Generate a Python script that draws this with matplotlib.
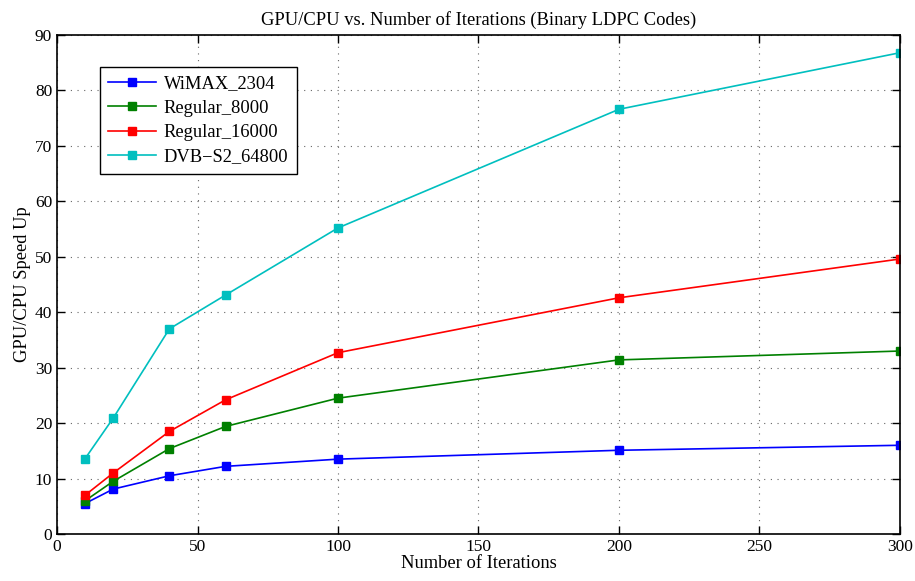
import matplotlib.pyplot as plt

iterations = [10, 20, 40, 60, 100, 200, 300]
wimax_2304 = [5.5, 8.1, 10.5, 12.2, 13.5, 15.1, 16.0]
regular_8000 = [6.0, 9.5, 15.4, 19.4, 24.5, 31.4, 33.0]
regular_16000 = [7.0, 11.0, 18.5, 24.2, 32.7, 42.6, 49.6]
dvb_s2_64800 = [13.6, 20.9, 37.0, 43.1, 55.2, 76.6, 86.8]

series = [
    ("WiMAX_2304", wimax_2304, "#0000ff"),
    ("Regular_8000", regular_8000, "#008000"),
    ("Regular_16000", regular_16000, "#ff0000"),
    ("DVB\u2212S2_64800", dvb_s2_64800, "#00bfbf"),
]

plt.rcParams['font.family'] = ['Liberation Serif', 'DejaVu Serif']
plt.rcParams['font.size'] = 12

fig = plt.figure(figsize=(9.15, 5.81), dpi=100)
ax = fig.add_axes([0.0623, 0.0809, 0.9213, 0.8589])

for label, vals, color in series:
    ax.plot(iterations, vals, color=color, marker='s', markersize=6,
            linewidth=1.2, label=label)

ax.set_xlim(0, 300)
ax.set_ylim(0, 90)
ax.set_xticks(range(0, 301, 50))
ax.set_yticks(range(0, 91, 10))
ax.grid(True, linestyle=(0, (1, 5)), color='#666666', linewidth=0.8)
ax.tick_params(direction='in', length=6, width=1, top=True, right=True, labelsize=12.5)
for s in ax.spines.values():
    s.set_linewidth(1.2)

ax.set_title("GPU/CPU vs. Number of Iterations (Binary LDPC Codes)", fontsize=13.3, pad=7)
ax.set_xlabel("Number of Iterations", fontsize=13.3, labelpad=0)
ax.set_ylabel("GPU/CPU Speed Up", fontsize=13.3, labelpad=3)

leg = ax.legend(loc='upper left', bbox_to_anchor=(0.051, 0.936), fancybox=False,
                edgecolor='black', framealpha=1, borderaxespad=0, fontsize=13.3,
                handlelength=2.6, handletextpad=0.4, labelspacing=0.4, borderpad=0.45)
leg.get_frame().set_linewidth(1.0)

plt.savefig("out.png", dpi=100)
